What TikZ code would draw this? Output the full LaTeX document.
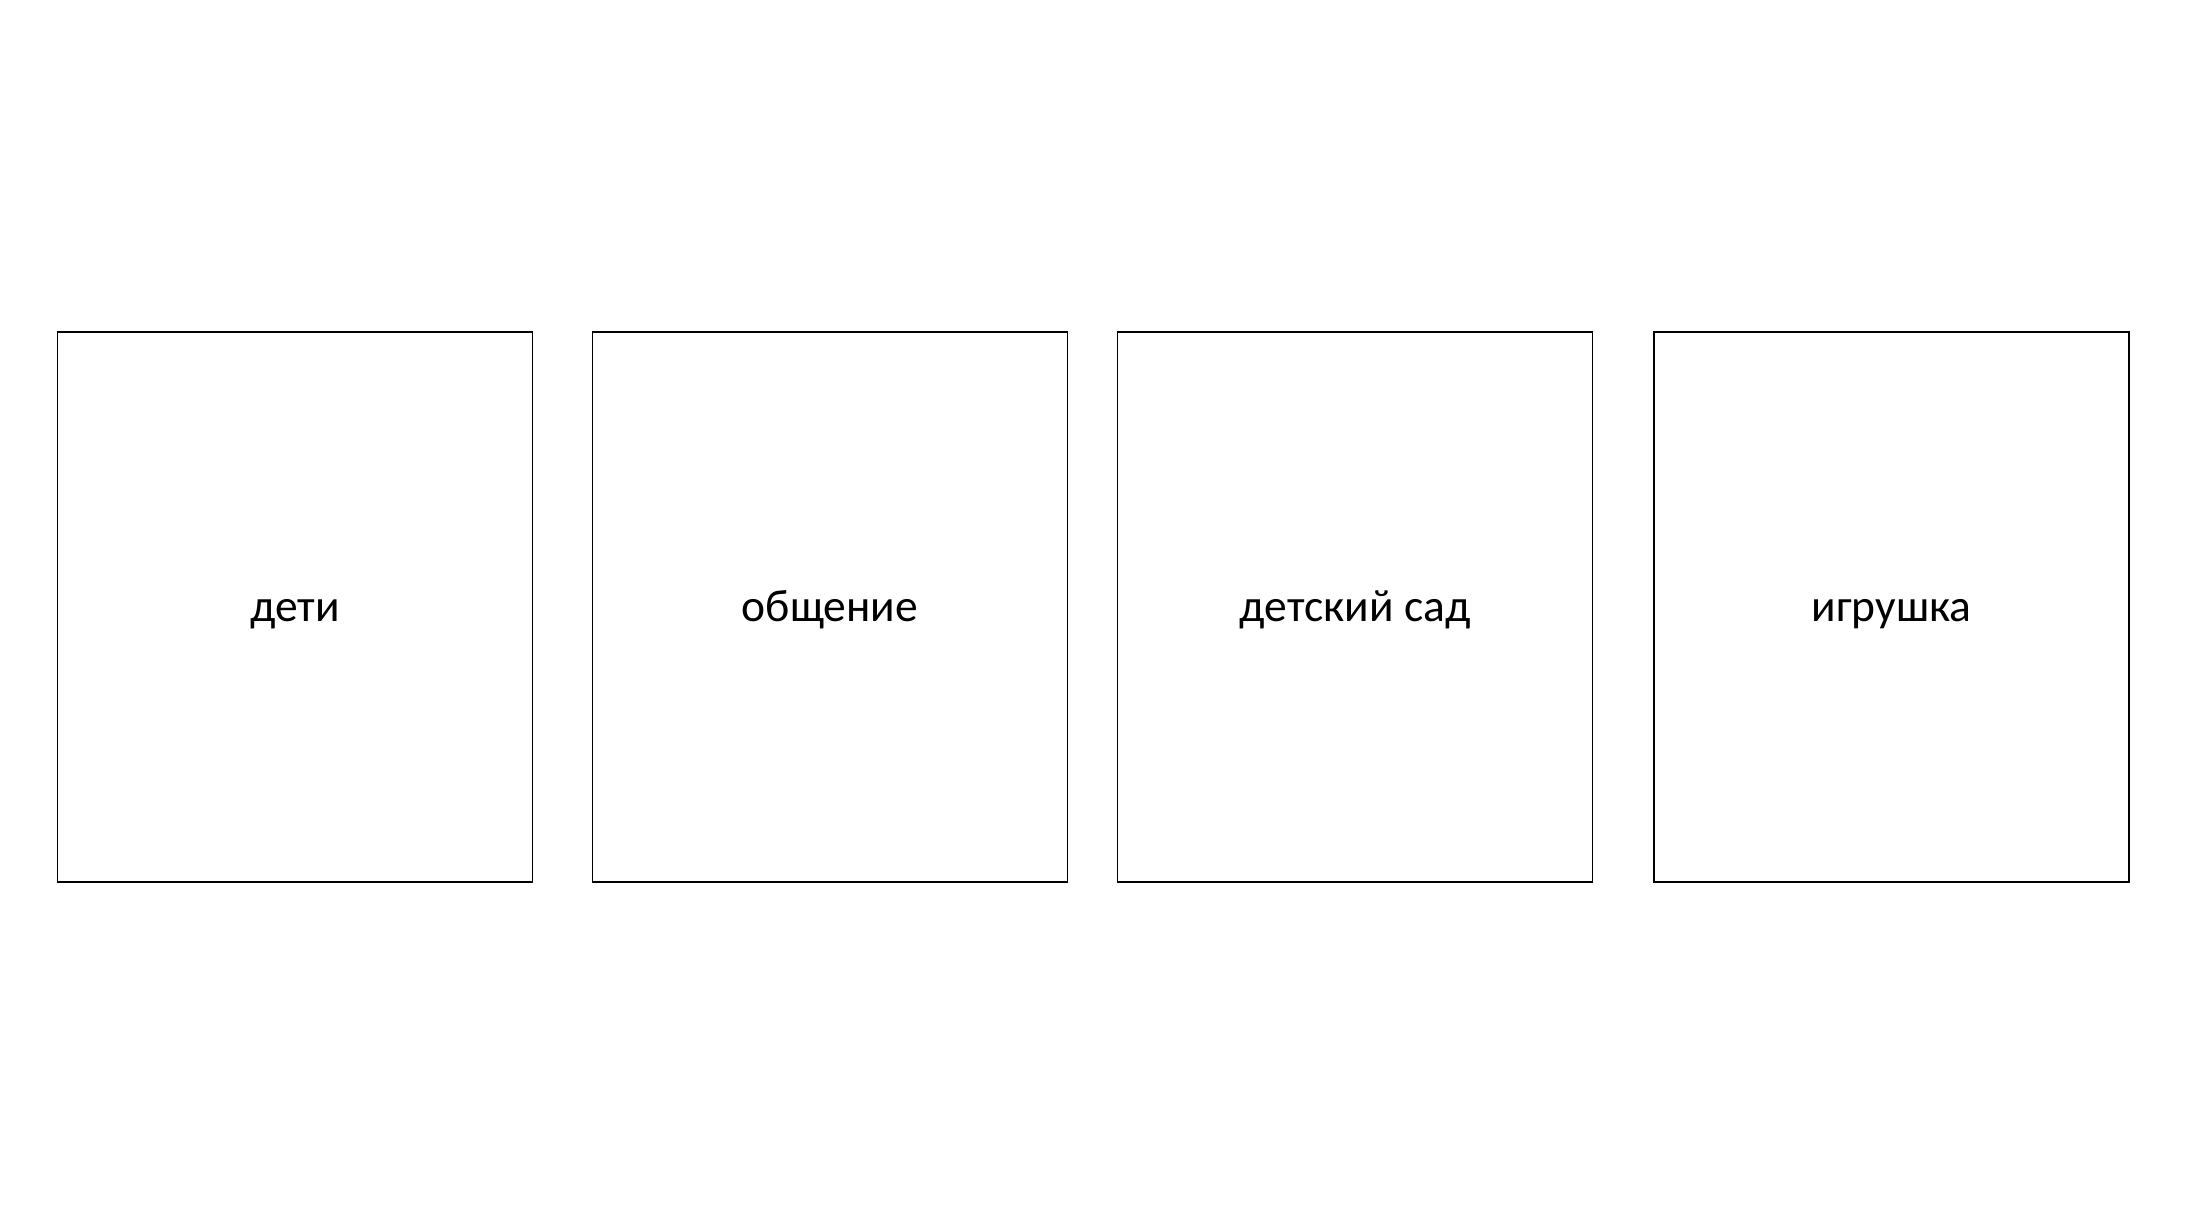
\documentclass[tikz,border=0pt]{standalone}
\usepackage{fontspec}
\setmainfont{Carlito}
\begin{document}
\begin{tikzpicture}[x=1pt,y=-1pt,
  card/.style={draw=black,line width=1.6pt,minimum width=475pt,minimum height=550pt,inner sep=0pt,
    font=\fontsize{45.5}{55}\selectfont,text=black,text height=38pt,text depth=10pt}]
\useasboundingbox[fill=white] (0,0) rectangle (2188,1224);
\node[card] (a) at (295,607) {дети};
\node[card] (b) at (830,607) {общение};
\node[card] (c) at (1355,607) {детский сад};
\node[card] (d) at (1891.5,607) {игрушка};
\end{tikzpicture}
\end{document}
